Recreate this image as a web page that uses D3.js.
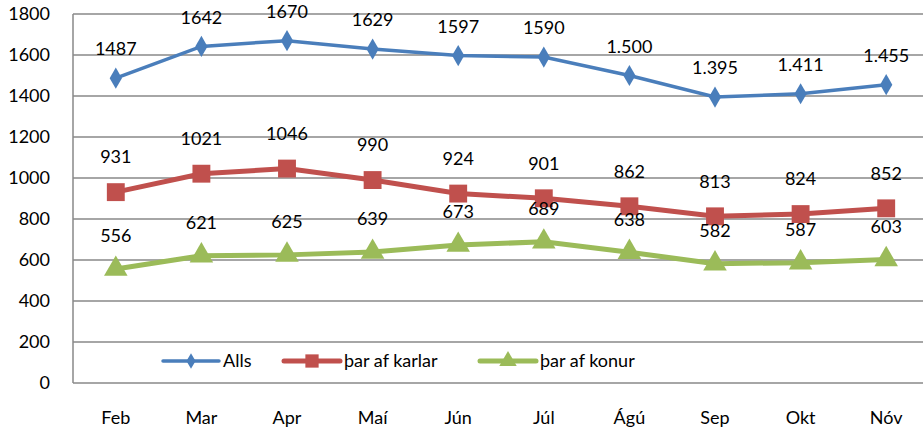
<!DOCTYPE html>
<html>
<head>
<meta charset="utf-8">
<script src="https://cdn.jsdelivr.net/npm/d3@7"></script>
<style>
body { margin: 0; background: #fff; }
svg text { font-family: Lato, "Open Sans", sans-serif; fill: #000; }
</style>
</head>
<body>
<div id="chart"></div>
<script>
var months = ["Feb", "Mar", "Apr", "Maí", "Jún", "Júl", "Ágú", "Sep", "Okt", "Nóv"];
var alls = [1487, 1642, 1670, 1629, 1597, 1590, 1500, 1395, 1411, 1455];
var karlar = [931, 1021, 1046, 990, 924, 901, 862, 813, 824, 852];
var konur = [556, 621, 625, 639, 673, 689, 638, 582, 587, 603];
var allsLabels = ["1487", "1642", "1670", "1629", "1597", "1590", "1.500", "1.395", "1.411", "1.455"];
var yTicks = [0, 200, 400, 600, 800, 1000, 1200, 1400, 1600, 1800];

var widthT = 923, heightT = 435;
var margin = {top: 14, right: -6, bottom: 52, left: 73},
    width = widthT - margin.left - margin.right,
    height = heightT - margin.top - margin.bottom;

var svg = d3.select("#chart").append("svg")
    .attr("width", widthT)
    .attr("height", heightT);
var g = svg.append("g").attr("transform", "translate(" + margin.left + "," + margin.top + ")");

var x = d3.scaleBand().domain(months).range([0, width]);
var y = d3.scaleLinear().domain([0, 1800]).range([height, 0]);
var cx = function(d, i) { return x(months[i]) + x.bandwidth() / 2; };
var fs = 18;

// gridlines
g.selectAll("line.grid")
    .data(yTicks)
  .enter().append("line")
    .attr("class", "grid")
    .attr("x1", 0).attr("x2", width)
    .attr("y1", function(d) { return y(d); })
    .attr("y2", function(d) { return y(d); })
    .attr("stroke", "#888").attr("stroke-width", 1.5);

g.append("line")
    .attr("x1", 0).attr("x2", 0).attr("y1", 0).attr("y2", height)
    .attr("stroke", "#888").attr("stroke-width", 1.5);

// y axis
var yAxis = g.append("g")
    .call(d3.axisLeft(y).tickValues(yTicks).tickFormat(d3.format("d")).tickSize(0).tickPadding(23));
yAxis.select(".domain").remove();
yAxis.selectAll("text").attr("font-size", fs).style("font-family", "Lato, sans-serif");

// x axis
var xAxis = g.append("g")
    .attr("transform", "translate(0," + height + ")")
    .call(d3.axisBottom(x).tickSize(0).tickPadding(28));
xAxis.select(".domain").remove();
xAxis.selectAll("text").attr("font-size", fs).style("font-family", "Lato, sans-serif");

var line = d3.line().x(cx).y(function(d) { return y(d); });

var series = [
  {name: "Alls", data: alls, labels: allsLabels, color: "#4a7ebb", w: 3.5, sym: d3.symbolDiamond, size: 130, off: 29},
  {name: "þar af karlar", data: karlar, labels: karlar.map(String), color: "#c0504d", w: 5, sym: d3.symbolSquare, size: 320, off: 35},
  {name: "þar af konur", data: konur, labels: konur.map(String), color: "#9bbb59", w: 5, sym: d3.symbolTriangle, size: 240, off: 33}
];

series.forEach(function(s) {
  g.append("path")
      .datum(s.data)
      .attr("fill", "none")
      .attr("stroke", s.color)
      .attr("stroke-width", s.w)
      .attr("d", line);

  g.selectAll(null)
      .data(s.data)
    .enter().append("path")
      .attr("d", d3.symbol().type(s.sym).size(s.size))
      .attr("transform", function(d, i) { return "translate(" + cx(d, i) + "," + y(d) + ")"; })
      .attr("fill", s.color);
});

series.forEach(function(s) {
  g.selectAll(null)
      .data(s.data)
    .enter().append("text")
      .attr("x", cx)
      .attr("y", function(d) { return y(d) - s.off; })
      .attr("dy", "0.35em")
      .attr("text-anchor", "middle")
      .attr("font-size", fs)
      .text(function(d, i) { return s.labels[i]; });
});

// legend
var legendX = [163, 284, 480], legendY = 361;
series.forEach(function(s, i) {
  var lg = svg.append("g").attr("transform", "translate(" + legendX[i] + "," + legendY + ")");
  lg.append("line")
      .attr("x1", 0).attr("x2", 56)
      .attr("stroke", s.color).attr("stroke-width", s.w)
      .attr("stroke-linecap", "round");
  lg.append("path")
      .attr("d", d3.symbol().type(s.sym).size(s.size * 0.55))
      .attr("transform", "translate(28,0)")
      .attr("fill", s.color);
  lg.append("text")
      .attr("x", 60).attr("dy", "0.35em")
      .attr("font-size", fs)
      .text(s.name);
});
</script>
</body>
</html>
